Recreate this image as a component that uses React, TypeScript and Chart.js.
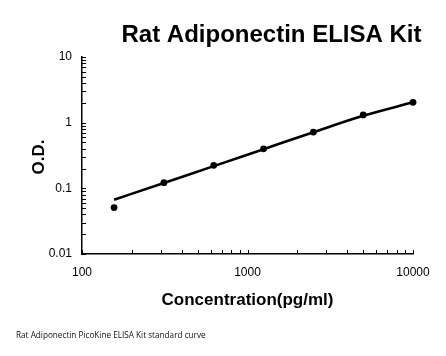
import React, { useEffect, useRef } from "react";
import { Chart, registerables } from "chart.js";

Chart.register(...registerables);

const concentrations = [156.25, 312.5, 625, 1250, 2500, 5000, 10000];
const odValues = [0.051, 0.122, 0.224, 0.40, 0.72, 1.31, 2.04];
const curveValues = [0.067, 0.121, 0.218, 0.395, 0.715, 1.27, 2.04];
const xTickLabels = ["100", "1000", "10000"];
const yTickLabels = ["0.01", "0.1", "1", "10"];
const chartTitle = "Rat Adiponectin ELISA Kit";
const xAxisTitle = "Concentration(pg/ml)";
const yAxisTitle = "O.D.";
const footnote = "Rat Adiponectin PicoKine ELISA Kit standard curve";

function decadeTicks(labels: string[]) {
  const out: { value: number; major: boolean }[] = [];
  const vals = labels.map(Number);
  for (let i = 0; i < vals.length; i++) {
    out.push({ value: vals[i], major: true });
    if (i < vals.length - 1) {
      for (let k = 2; k <= 9; k++) out.push({ value: vals[i] * k, major: false });
    }
  }
  return out;
}

const FONT = "'Liberation Sans', Arial, sans-serif";

const decorPlugin = {
  id: "decor",
  afterDraw(chart: any) {
    const ctx = chart.ctx;
    const area = chart.chartArea;
    ctx.save();
    ctx.strokeStyle = "#000";
    ctx.lineWidth = 1;
    const xs = chart.scales.x;
    const ys = chart.scales.y;
    xs.ticks.forEach((t: any) => {
      const px = Math.round(xs.getPixelForValue(t.value)) + 0.5;
      ctx.beginPath();
      ctx.moveTo(px, area.bottom);
      ctx.lineTo(px, area.bottom - 4);
      ctx.stroke();
    });
    ys.ticks.forEach((t: any) => {
      const py = Math.round(ys.getPixelForValue(t.value)) + 0.5;
      ctx.beginPath();
      ctx.moveTo(area.left, py);
      ctx.lineTo(area.left + 4, py);
      ctx.stroke();
    });
    ctx.fillStyle = "#000";
    ctx.font = `bold 24px ${FONT}`;
    ctx.textAlign = "center";
    ctx.textBaseline = "alphabetic";
    ctx.fillText(chartTitle, 271.5, 42);
    ctx.font = `bold 17px ${FONT}`;
    ctx.fillText(xAxisTitle, (area.left + area.right) / 2, 305);
    ctx.save();
    ctx.translate(44, 157);
    ctx.rotate(-Math.PI / 2);
    ctx.fillText(yAxisTitle, 0, 0);
    ctx.restore();
    ctx.font = `8.2px 'Open Sans', sans-serif`;
    ctx.textAlign = "left";
    ctx.fillStyle = "#111";
    ctx.fillText(footnote, 16, 338);
    ctx.restore();
  },
};

export default function App() {
  const ref = useRef<HTMLCanvasElement | null>(null);
  useEffect(() => {
    document.body.style.margin = "0";
    const canvas = ref.current;
    if (!canvas) return;
    const chart = new Chart(canvas, {
      type: "scatter",
      data: {
        datasets: [
          {
            label: "curve",
            data: concentrations.map((c, i) => ({ x: c, y: curveValues[i] })),
            showLine: true,
            borderColor: "#000",
            borderWidth: 2.6,
            pointRadius: 0,
            tension: 0.4,
            cubicInterpolationMode: "monotone",
            clip: false,
          } as any,
          {
            label: "standards",
            data: concentrations.map((c, i) => ({ x: c, y: odValues[i] })),
            showLine: false,
            backgroundColor: "#000",
            borderColor: "#000",
            pointRadius: 3.4,
            pointBorderWidth: 0,
            clip: false,
          } as any,
        ],
      },
      options: {
        responsive: false,
        animation: false,
        layout: { padding: { top: 57, right: 33, left: 0, bottom: 0 } },
        plugins: {
          legend: { display: false },
          tooltip: { enabled: false },
          title: { display: false },
        },
        scales: {
          x: {
            type: "logarithmic",
            min: 100,
            max: 10000,
            afterBuildTicks: (s: any) => {
              s.ticks = decadeTicks(xTickLabels);
            },
            afterFit: (s: any) => {
              s.height = 102;
            },
            grid: { display: false },
            border: { display: true, color: "#000", width: 1.5 },
            ticks: {
              autoSkip: false,
              maxRotation: 0,
              padding: 3,
              color: "#000",
              font: { family: FONT, size: 12 },
              callback: (v: any) => {
                const i = xTickLabels.map(Number).indexOf(Number(v));
                return i >= 0 ? xTickLabels[i] : "";
              },
            },
          },
          y: {
            type: "logarithmic",
            min: 0.01,
            max: 10,
            afterBuildTicks: (s: any) => {
              s.ticks = decadeTicks(yTickLabels);
            },
            afterFit: (s: any) => {
              s.width = 82;
            },
            grid: { display: false },
            border: { display: true, color: "#000", width: 1.5 },
            ticks: {
              autoSkip: false,
              padding: 2,
              color: "#000",
              font: { family: FONT, size: 12 },
              callback: (v: any) => {
                const i = yTickLabels.map(Number).findIndex((n) => Math.abs(n - Number(v)) < 1e-9);
                return i >= 0 ? yTickLabels[i] : "";
              },
            },
          },
        },
      },
      plugins: [decorPlugin],
    } as any);
    return () => chart.destroy();
  }, []);
  return (
    <div style={{ position: "fixed", left: 0, top: 0, width: 446, height: 356, background: "#fff" }}>
      <canvas ref={ref} width={446} height={356} style={{ width: 446, height: 356 }} />
    </div>
  );
}
